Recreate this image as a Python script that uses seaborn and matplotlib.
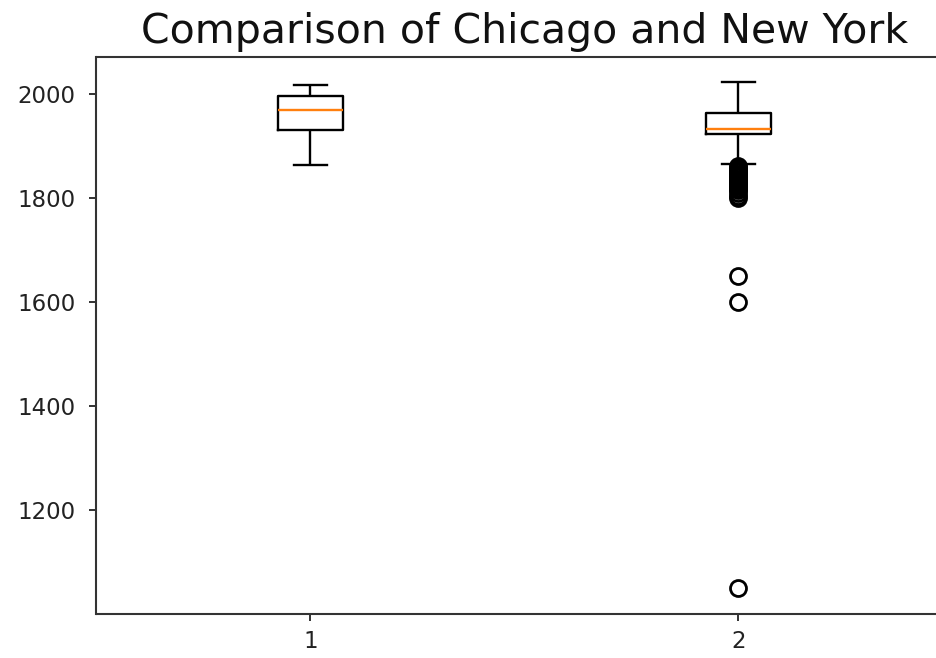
import numpy as np
import pandas as pd
import matplotlib
matplotlib.use("Agg")
import matplotlib.pyplot as plt
import seaborn as sns

# Year built, Chicago sample
chicago_years = [1863, 1900, 1932, 1955, 1970, 1985, 1997, 2010, 2018]

# Year built, New York: early / unusual buildings (one each)
ny_early_years = [1050, 1600, 1650, 1800, 1805, 1810, 1815, 1818, 1820, 1823,
                  1825, 1827, 1830, 1832, 1835, 1837, 1840, 1842, 1845, 1847,
                  1850, 1852, 1855, 1857, 1860, 1862]
# Year built, New York: remaining buildings as year / number of buildings
ny_years = [1865, 1880, 1895, 1905, 1912, 1918, 1924, 1927, 1930, 1932, 1933,
            1938, 1945, 1950, 1956, 1964, 1970, 1980, 1990, 2000, 2008, 2015,
            2020, 2023]
ny_counts = [1, 2, 2, 3, 3, 3, 6, 10, 15, 7, 7,
             8, 8, 8, 8, 7, 8, 8, 7, 6, 4, 2,
             1, 1]

group_labels = ["1", "2"]
title_text = "Comparison of Chicago and New York"

ny_all = list(ny_early_years) + list(np.repeat(ny_years, ny_counts))
df = pd.DataFrame({
    "group": [group_labels[0]] * len(chicago_years) + [group_labels[1]] * len(ny_all),
    "year": list(chicago_years) + ny_all,
})

W, H, DPI = 937, 658, 100
fig = plt.figure(figsize=(W / DPI, H / DPI), dpi=DPI)
fig.patch.set_facecolor("white")
left_px, right_px, top_px, bottom_px = 96.5, 952.5, 57.0, 613.5
ax = fig.add_axes([left_px / W, 1 - bottom_px / H,
                   (right_px - left_px) / W, (bottom_px - top_px) / H])

line_w = 1.7
sns.boxplot(
    data=df, x="group", y="year", order=group_labels, ax=ax,
    width=0.15, whis=1.5, fill=False, color="black", linewidth=line_w,
    medianprops=dict(color="#ff7f0e", linewidth=line_w),
    whiskerprops=dict(color="black", linewidth=line_w),
    capprops=dict(color="black", linewidth=line_w),
    boxprops=dict(color="black", linewidth=line_w),
    flierprops=dict(marker="o", markerfacecolor="none", markeredgecolor="black",
                    markersize=11.5, markeredgewidth=2.0),
)

ax.set_xlim(-0.5, 1.5)
ax.set_ylim(1001.35, 2071.65)
ax.set_yticks([1200, 1400, 1600, 1800, 2000])
ax.set_xlabel("")
ax.set_ylabel("")
ax.set_facecolor("white")
for side in ["left", "right", "top", "bottom"]:
    ax.spines[side].set_visible(True)
    ax.spines[side].set_color("#333333")
    ax.spines[side].set_linewidth(1.5)
ax.tick_params(axis="both", which="major", length=5, width=1.4, color="#333333",
               labelsize=16.5, labelcolor="#222222", direction="out")
ax.tick_params(axis="y", pad=10)
ax.tick_params(axis="x", pad=7)
ax.grid(False)
ax.set_title(title_text, fontsize=29.5, color="#111111", pad=10)

fig.savefig("out.png", dpi=DPI, facecolor="white")
